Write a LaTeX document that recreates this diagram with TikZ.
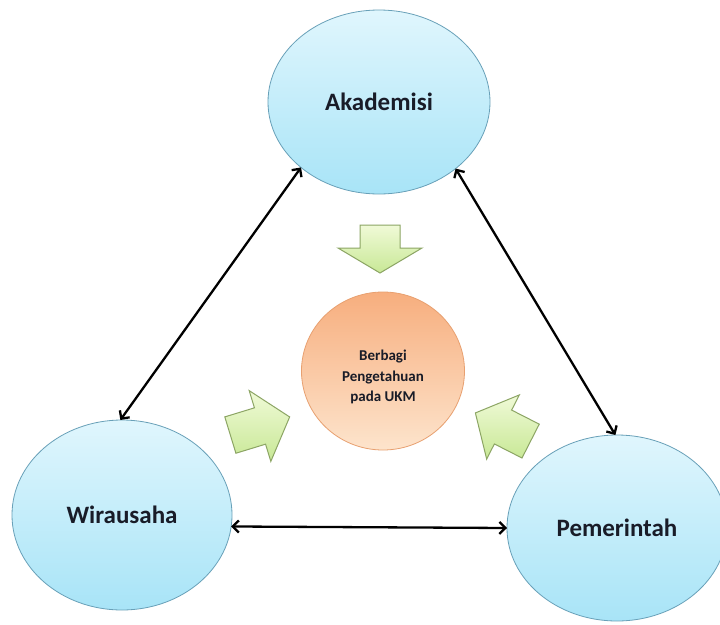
\documentclass[tikz,border=0pt]{standalone}
\usepackage{fontspec}
\setmainfont{Carlito}
\usetikzlibrary{shapes.geometric,arrows.meta}
\definecolor{bluetop}{RGB}{224,246,253}
\definecolor{bluebot}{RGB}{168,228,247}
\definecolor{blueedge}{RGB}{104,160,184}
\definecolor{ortop}{RGB}{247,174,126}
\definecolor{orbot}{RGB}{253,228,204}
\definecolor{oredge}{RGB}{232,160,112}
\definecolor{grtop}{RGB}{240,250,215}
\definecolor{grbot}{RGB}{200,232,150}
\definecolor{gredge}{RGB}{140,165,100}
\definecolor{txt}{RGB}{25,28,40}
\tikzset{
  actor/.style={ellipse, draw=blueedge, line width=0.8pt, top color=bluetop, bottom color=bluebot,
    inner sep=0pt, outer sep=0pt, font=\fontsize{25}{28}\selectfont\bfseries, text=txt},
  hub/.style={ellipse, draw=oredge, line width=0.8pt, top color=ortop, bottom color=orbot,
    inner sep=0pt, outer sep=0pt, align=center, font=\fontsize{15}{20.5}\selectfont\bfseries, text=txt},
  link/.style={line width=2.3pt, black, {Straight Barb[length=6pt,width=12pt]}-{Straight Barb[length=6pt,width=12pt]}},
  flow/.style={draw=gredge, line width=1pt, top color=grtop, bottom color=grbot, line join=miter}
}
\begin{document}
\begin{tikzpicture}[x=1pt,y=-1pt]
\useasboundingbox (0,0) rectangle (720,624);
\clip (0,0) rectangle (720,624);
\fill[white] (0,0) rectangle (720,624);

\node[actor, minimum width=222pt, minimum height=184pt] (A) at (379,102) {Akademisi};
\node[actor, minimum width=220pt, minimum height=190pt] (W) at (122,515) {Wirausaha};
\node[actor, minimum width=220pt, minimum height=186pt] (P) at (617,528) {Pemerintah};
\node[hub, minimum width=163pt, minimum height=158pt] (C) at (383,371) {};
\node[align=center, inner sep=0pt, font=\fontsize{15}{20.5}\selectfont\bfseries, text=txt] (Ct) at (383,377) {Berbagi\\Pengetahuan\\pada UKM};

\draw[link] (A.220) -- (W.91);
\draw[link] (A.319) -- (P.91);
\draw[link] (W.-6) -- (P.180);

% green block arrows
\begin{scope}[shift={(380,249)}, rotate=-90]
  \path[flow] (-24,-20) -- (-1,-20) -- (-1,-42) -- (24,0) -- (-1,42) -- (-1,20) -- (-24,20) -- cycle;
\end{scope}
\begin{scope}[shift={(260,426)}, rotate=17]
  \path[flow] (-31,-19) -- (0,-19) -- (0,-37) -- (31,0) -- (0,37) -- (0,19) -- (-31,19) -- cycle;
\end{scope}
\begin{scope}[shift={(503,427)}, rotate=153]
  \path[flow] (-31,-19) -- (0,-19) -- (0,-36) -- (31,0) -- (0,36) -- (0,19) -- (-31,19) -- cycle;
\end{scope}
\end{tikzpicture}
\end{document}
